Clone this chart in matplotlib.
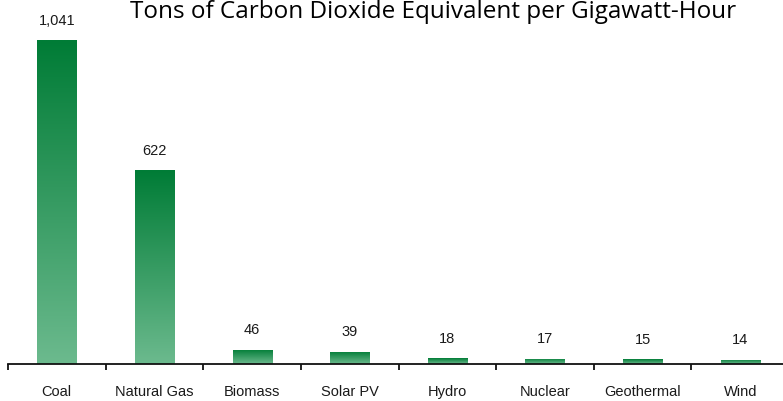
import numpy as np
import matplotlib.pyplot as plt
from matplotlib.colors import LinearSegmentedColormap

categories = ["Coal", "Natural Gas", "Biomass", "Solar PV", "Hydro", "Nuclear", "Geothermal", "Wind"]
values = [1041, 622, 46, 39, 18, 17, 15, 14]
value_labels = ["1,041", "622", "46", "39", "18", "17", "15", "14"]

W, H = 783, 401
fig = plt.figure(figsize=(W / 100, H / 100), dpi=100)
ax = fig.add_axes([8 / W, 37 / H, 781 / W, 364 / H])

x = np.arange(len(categories))
ymax = 1041 * 364 / 324
ax.set_xlim(-0.5, len(categories) - 0.5)
ax.set_ylim(0, ymax)

# vertical gradient, dark on top, light at the base of every bar
cmap = LinearSegmentedColormap.from_list("g", ["#6cba8e", "#007c36"])
grad = np.linspace(0, 1, 256).reshape(-1, 1)
bw = 0.4
bars = ax.bar(x, values, width=bw, color="none", edgecolor="none")
for b, v in zip(bars, values):
    im = ax.imshow(grad, cmap=cmap, aspect="auto", origin="lower",
                   extent=(b.get_x(), b.get_x() + bw, 0, v), zorder=2)
    im.set_clip_path(b)

for xi, v, lab in zip(x, values, value_labels):
    ax.annotate(lab, (xi, v), xytext=(0, 14), textcoords="offset points",
                ha="center", va="center", fontsize=10.5, color="#1a1a1a",
                family="Liberation Sans")

for s in ["top", "right", "left"]:
    ax.spines[s].set_visible(False)
ax.spines["bottom"].set_linewidth(1.3)
ax.spines["bottom"].set_color("#111111")
ax.set_yticks([])
ax.set_xticks(np.arange(len(categories) + 1) - 0.5)
ax.set_xticklabels([])
ax.tick_params(axis="x", length=4, width=1.3, color="#111111")
for xi, c in zip(x, categories):
    ax.text(xi, -28 / 364 * ymax, c, ha="center", va="center", fontsize=10.5,
            color="#1a1a1a", family="Liberation Sans")

fig.text(433 / W, 1 - 18 / H, "Tons of Carbon Dioxide Equivalent per Gigawatt-Hour",
         ha="center", va="baseline", fontsize=17.5, family="Open Sans", color="black")

fig.savefig("out.png", dpi=100)
